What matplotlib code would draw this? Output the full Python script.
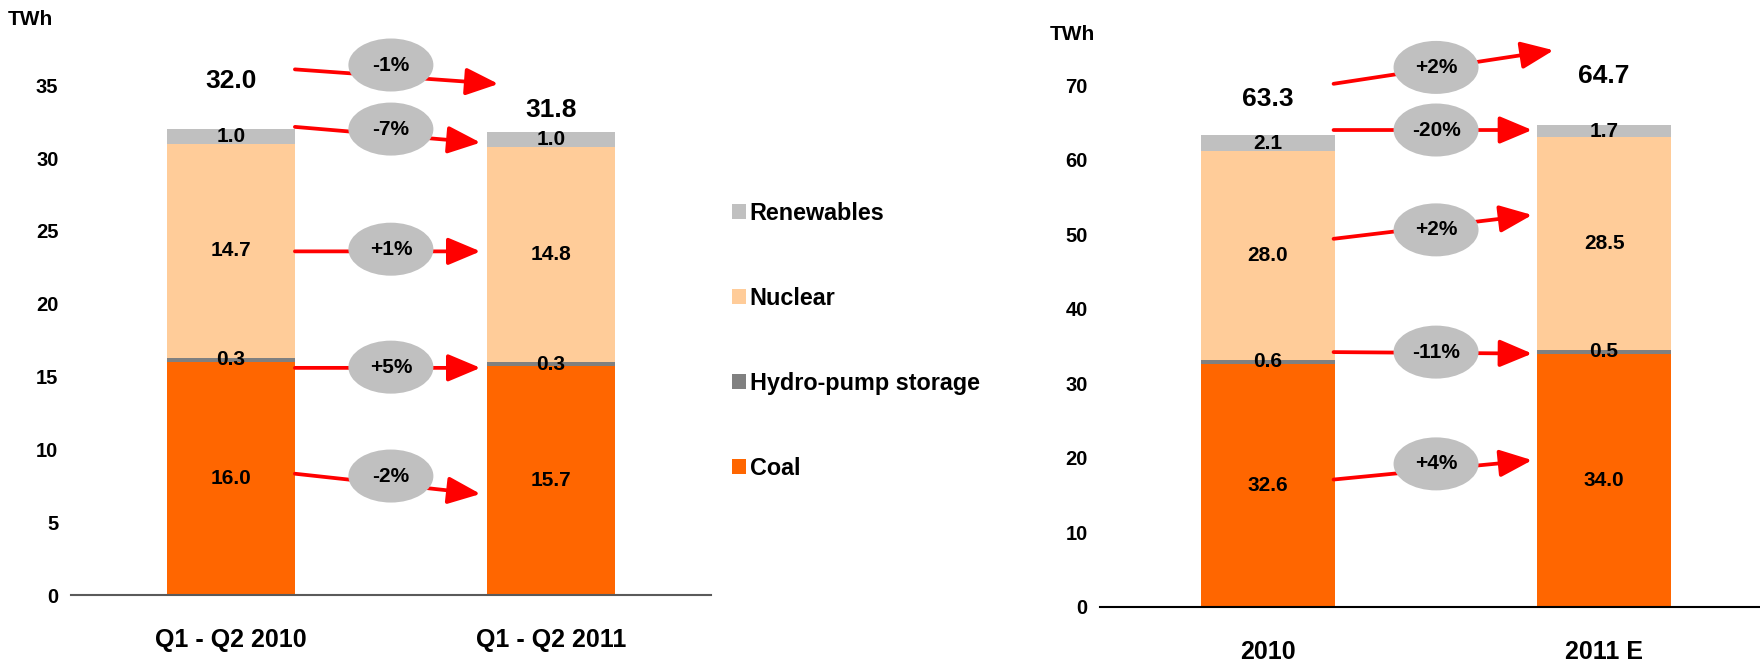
import matplotlib
matplotlib.use("Agg")
import matplotlib.pyplot as plt
from matplotlib.patches import Ellipse
from matplotlib.transforms import ScaledTranslation

plt.rcParams["font.family"] = ["Liberation Sans", "DejaVu Sans"]
plt.rcParams["font.weight"] = "bold"

# ---------------------------------------------------------------------------
# DATA
# ---------------------------------------------------------------------------
SERIES = ["Coal", "Hydro-pump storage", "Nuclear", "Renewables"]
COLORS = ["#FF6600", "#808080", "#FFCC99", "#C0C0C0"]

LEFT_CATS = ["Q1 - Q2 2010", "Q1 - Q2 2011"]
LEFT_COAL = [16.0, 15.7]
LEFT_HYDRO = [0.3, 0.3]
LEFT_NUCLEAR = [14.7, 14.8]
LEFT_RENEW = [1.0, 1.0]
LEFT_TOTAL = [32.0, 31.8]
LEFT_CHANGE = ["-1%", "-7%", "+1%", "+5%", "-2%"]   # total, renew, nuclear, hydro, coal

RIGHT_CATS = ["2010", "2011 E"]
RIGHT_COAL = [32.6, 34.0]
RIGHT_HYDRO = [0.6, 0.5]
RIGHT_NUCLEAR = [28.0, 28.5]
RIGHT_RENEW = [2.1, 1.7]
RIGHT_TOTAL = [63.3, 64.7]
RIGHT_CHANGE = ["+2%", "-20%", "+2%", "-11%", "+4%"]

# arrow layout: (x0, y0, x1, y1, label_y) in data units, same order as *_CHANGE
LEFT_ARROWS = [(0.2, 36.1, 0.836, 35.1, 36.4),
               (0.2, 32.15, 0.78, 31.07, 32.0),
               (0.2, 23.6, 0.78, 23.6, 23.75),
               (0.2, 15.6, 0.78, 15.6, 15.65),
               (0.2, 8.33, 0.78, 6.94, 8.17)]
RIGHT_ARROWS = [(0.195, 70.2, 0.85, 74.7, 72.4),
                (0.195, 64.0, 0.786, 64.0, 64.0),
                (0.195, 49.4, 0.786, 52.6, 50.6),
                (0.195, 34.2, 0.786, 34.0, 34.2),
                (0.195, 17.1, 0.786, 19.7, 19.2)]
LEFT_TOTAL_Y = [35.3, 33.3]
RIGHT_TOTAL_Y = [68.2, 71.2]

fig = plt.figure(figsize=(17.6, 6.62), dpi=100)
ax1 = fig.add_axes([0.0403, 0.1012, 0.3636, 0.8358])
ax2 = fig.add_axes([0.625, 0.0831, 0.375, 0.8556])


def panel(ax, cats, stacks, totals, total_y, changes, arrows, ymax, ystep, spine_col):
    x = list(range(len(cats)))
    bottom = [0.0] * len(cats)
    conts = []
    for vals, name, col in zip(stacks, SERIES, COLORS):
        c = ax.bar(x, vals, 0.4, bottom=bottom, color=col, label=name, zorder=2)
        ax.bar_label(c, labels=[f"{v:.1f}" for v in vals], label_type="center",
                     fontsize=15, fontweight="bold", zorder=5)
        conts.append(c)
        bottom = [b + v for b, v in zip(bottom, vals)]
    for xi, t, ty in zip(x, totals, total_y):
        ax.text(xi, ty, f"{t:.1f}", ha="center", va="center", fontsize=19, fontweight="bold")

    for (x0, y0, x1, y1, ly), lab in zip(arrows, changes):
        ax.annotate("", xy=(x1, y1), xytext=(x0, y0),
                    arrowprops=dict(arrowstyle="-|>,head_length=1.0,head_width=0.42",
                                    color="#FF0000", lw=2.7, mutation_scale=20,
                                    shrinkA=0, shrinkB=0), zorder=3)
        tr = fig.dpi_scale_trans + ScaledTranslation(0.5, ly, ax.transData)
        ax.add_patch(Ellipse((0, 0), 0.85, 0.53, transform=tr, facecolor="#C0C0C0",
                             edgecolor="none", zorder=4, clip_on=False))
        ax.text(0.5, ly, lab, ha="center", va="center", fontsize=15,
                fontweight="bold", zorder=6)

    ax.set_xlim(-0.5, x[-1] + 0.5)
    ax.set_ylim(0, ymax)
    ax.set_yticks(range(0, int(ymax) - 2, ystep))
    ax.set_xticks(x)
    ax.set_xticklabels(cats, fontsize=18, fontweight="bold")
    ax.tick_params(axis="y", length=0, pad=9, labelsize=14.5)
    ax.tick_params(axis="x", length=0, pad=24)
    for s in ["top", "right", "left"]:
        ax.spines[s].set_visible(False)
    ax.spines["bottom"].set_color(spine_col)
    ax.spines["bottom"].set_linewidth(1.5)
    return conts


conts = panel(ax1, LEFT_CATS, [LEFT_COAL, LEFT_HYDRO, LEFT_NUCLEAR, LEFT_RENEW],
              LEFT_TOTAL, LEFT_TOTAL_Y, LEFT_CHANGE, LEFT_ARROWS, 38, 5, "#5a5a5a")
panel(ax2, RIGHT_CATS, [RIGHT_COAL, RIGHT_HYDRO, RIGHT_NUCLEAR, RIGHT_RENEW],
      RIGHT_TOTAL, RIGHT_TOTAL_Y, RIGHT_CHANGE, RIGHT_ARROWS, 76, 10, "#000000")
ax2.set_xlim(-0.5, 1.464)

fig.text(30 / 1760, 0.9698, "TWh", ha="center", va="center", fontsize=15, fontweight="bold")
fig.text(1072 / 1760, 0.9486, "TWh", ha="center", va="center", fontsize=15, fontweight="bold")

fig.legend(conts[::-1], SERIES[::-1], loc="upper left", bbox_to_anchor=(0.404, 0.727),
           frameon=False, handlelength=0.6, handleheight=0.6,
           handletextpad=0.15, labelspacing=2.66, prop=dict(weight="bold", size=16.8))

fig.savefig("out.png", dpi=100)
